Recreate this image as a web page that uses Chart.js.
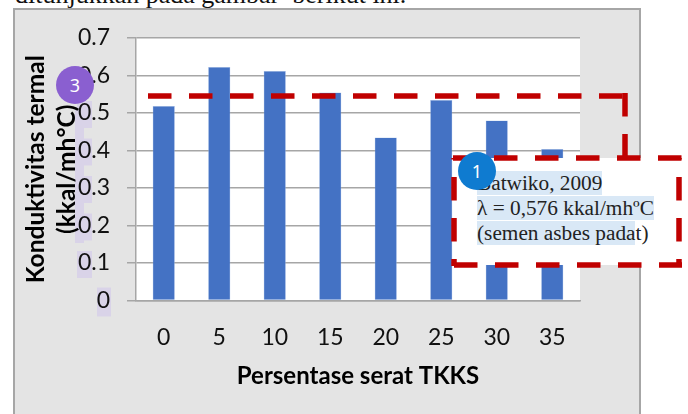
<!DOCTYPE html>
<html>
<head>
<meta charset="utf-8">
<script src="https://cdn.jsdelivr.net/npm/chart.js@4"></script>
<style>
html, body { margin: 0; padding: 0; background: #fff; overflow: hidden; }
#page { position: relative; width: 688px; height: 414px; overflow: hidden; }
#panel { position: absolute; left: 13px; top: 8px; width: 624px; height: 410px; background: #e4e4e4; border: 2px solid #a6a6a6; }
#wrap { position: absolute; left: 0; top: 0; width: 688px; height: 414px; }
#topline { position: absolute; left: 15px; top: -20px; font: 26px "Liberation Serif"; color: #111; white-space: pre; }
#notebox { position: absolute; left: 454px; top: 158px; width: 226px; height: 107px; background: #fff; }
#note { position: absolute; left: 477px; top: 171px; font: 21.3px/25px "Liberation Serif"; color: #222; white-space: pre; }
#note span { background: #d9e8f6; }
svg { position: absolute; left: 0; top: 0; }
.badge { position: absolute; width: 38px; height: 38px; border-radius: 50%; color: #fff; font: 18px/38px "Noto Sans"; text-align: center; }
</style>
</head>
<body>
<div id="page">
  <div id="topline">ditunjukkan pada gambar  berikut ini.</div>
  <div id="panel"></div>
  <div id="wrap"><canvas id="conductivityChart" width="688" height="414"></canvas></div>
  <div id="notebox"></div>
  <svg width="688" height="414" fill="none" stroke="#c00000" stroke-width="5.5" stroke-dasharray="23.5 17.5">
    <path d="M148 96 H623"/>
    <path d="M625 93 V158"/>
    <path d="M453 158 H682"/>
    <path d="M454 158 V266" stroke-dashoffset="22"/>
    <path d="M679 158 V266" stroke-dashoffset="22"/>
    <path d="M454 265 H682"/>
  </svg>
  <div id="note"><span>Batwiko, 2009</span>
<span>λ = 0,576 kkal/mhºC</span>
<span>(semen asbes pada</span>t)</div>
  <div class="badge" style="left:56px;top:66px;background:#8a5fd0">3</div>
  <div class="badge" style="left:458px;top:152px;background:#0f7bd0">1</div>
</div>
<script>
// Values
const fiberPercent = ["0", "5", "10", "15", "20", "25", "30", "35"];
const conductivity = [0.519, 0.623, 0.612, 0.555, 0.435, 0.535, 0.48, 0.404];
const xAxisTitle = "Persentase serat TKKS";
const yAxisTitle = ["Konduktivitas termal", "(kkal/mh°C)"];

// White plot area and the lavender highlights behind the y labels
const plotBackground = {
    id: "plotBackground",
    beforeDraw(chart) {
        const ctx = chart.ctx;
        const area = chart.chartArea;
        const y = chart.scales.y;
        ctx.save();
        ctx.fillStyle = "#fff";
        ctx.fillRect(area.left, area.top, area.right - area.left, area.bottom - area.top);
        ctx.fillStyle = "#d9d3e8";
        ctx.fillRect(75, 108, 9, 135);
        y.ticks.forEach(function (tick) {
            if (tick.value > 0.55) return;
            const py = y.getPixelForValue(tick.value);
            if (tick.value === 0) {
                ctx.fillRect(97, py - 13, 14, 29);
            } else {
                ctx.fillRect(77, py - 12, 15, 27);
            }
        });
        ctx.restore();
    }
};

var ctx = document.getElementById("conductivityChart").getContext("2d");
var conductivityChart = new Chart(ctx, {
    type: "bar",
    data: {
        labels: fiberPercent,
        datasets: [{
            label: "Konduktivitas termal",
            data: conductivity,
            backgroundColor: "#4472c4",
            borderColor: "#a9c1e8",
            borderWidth: 0.5,
            barPercentage: 0.8,
            categoryPercentage: 0.5
        }]
    },
    options: {
        responsive: false,
        animation: false,
        layout: { padding: { left: 20, top: 38, right: 108, bottom: 23 } },
        plugins: { legend: { display: false }, tooltip: { enabled: false } },
        scales: {
            x: {
                afterFit: function (scale) { scale.height = 90.5; },
                grid: { display: false },
                border: { color: "#a6a6a6", width: 1.5 },
                ticks: { color: "#111", font: { family: "Lato", size: 23 }, padding: 15, maxRotation: 0 },
                title: { display: true, text: xAxisTitle, color: "#000", font: { family: "Lato", size: 24, weight: "bold" }, padding: 0 }
            },
            y: {
                min: 0,
                max: 0.7,
                afterFit: function (scale) { scale.width = 116; },
                grid: { color: "#a6a6a6", lineWidth: 1.5, tickLength: 9 },
                border: { color: "#a6a6a6", width: 1.5 },
                ticks: { stepSize: 0.1, color: "#111", font: { family: "Lato", size: 23 }, padding: 17,
                    callback: function (v) { return v === 0 ? "0" : v.toFixed(1); } },
                title: { display: true, text: yAxisTitle, color: "#000", font: { family: "Lato", size: 24.5, weight: "bold", lineHeight: 1.28 }, padding: 0 }
            }
        }
    },
    plugins: [plotBackground]
});
</script>
</body>
</html>
